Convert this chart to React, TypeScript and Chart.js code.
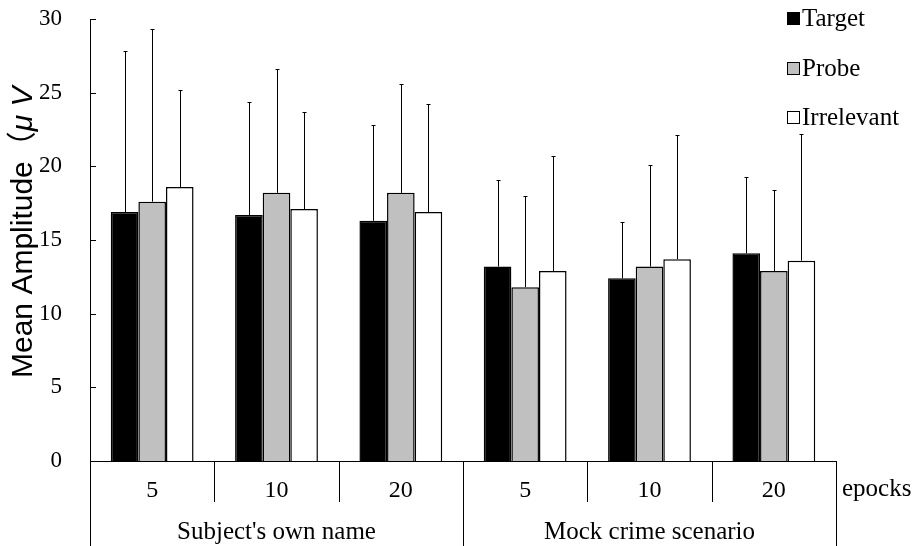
import React, { useEffect, useRef } from "react";
import { Chart, registerables } from "chart.js";

Chart.register(...registerables);

const categories = ["5", "10", "20", "5", "10", "20"];
const groupLabels = ["Subject's own name", "Mock crime scenario"];
const groupSizes = [3, 3];
const axisUnitLabel = "epocks";
const yTitleMain = "Mean Amplitude";
const yTitleParen = "（";
const yTitleUnit = "μ V";

const seriesNames = ["Target", "Probe", "Irrelevant"];
const targetMeans = [16.9, 16.7, 16.3, 13.2, 12.4, 14.1];
const probeMeans = [17.6, 18.2, 18.2, 11.8, 13.2, 12.9];
const irrelevantMeans = [18.6, 17.1, 16.9, 12.9, 13.7, 13.6];
const targetSD = [10.9, 7.7, 6.5, 5.9, 3.8, 5.2];
const probeSD = [11.7, 8.4, 7.4, 6.2, 6.9, 5.5];
const irrelevantSD = [6.6, 6.6, 7.3, 7.8, 8.4, 8.6];
const seriesColors = ["#000000", "#c0c0c0", "#ffffff"];

const yMin = 0;
const yMax = 30;
const yStep = 5;

const SERIF = "'Liberation Serif', 'Times New Roman', serif";
const SANS = "'Liberation Sans', Arial, sans-serif";
const CJK = "'Noto Sans CJK JP', 'Noto Sans CJK SC', sans-serif";

const errorBarPlugin = {
  id: "errorBars",
  afterDatasetsDraw(chart: any) {
    const ctx = chart.ctx;
    const y = chart.scales.y;
    const sds = [targetSD, probeSD, irrelevantSD];
    ctx.save();
    ctx.strokeStyle = "#000";
    ctx.lineWidth = 1;
    chart.data.datasets.forEach((ds: any, i: number) => {
      const meta = chart.getDatasetMeta(i);
      meta.data.forEach((bar: any, j: number) => {
        const v = ds.data[j];
        const top = y.getPixelForValue(v + sds[i][j]);
        const x = Math.round(bar.x) + 0.5;
        ctx.beginPath();
        ctx.moveTo(x, bar.y);
        ctx.lineTo(x, Math.round(top));
        ctx.moveTo(x - 2, Math.round(top) + 0.5);
        ctx.lineTo(x + 2, Math.round(top) + 0.5);
        ctx.stroke();
      });
    });
    ctx.restore();
  },
};

const decorPlugin = {
  id: "decor",
  afterDraw(chart: any) {
    const ctx = chart.ctx;
    const x = chart.scales.x;
    const y = chart.scales.y;
    const area = chart.chartArea;
    const H = chart.height;
    ctx.save();

    // y ticks inside
    ctx.strokeStyle = "#000";
    ctx.lineWidth = 1;
    y.ticks.forEach((t: any) => {
      const py = Math.round(y.getPixelForValue(t.value)) + 0.5;
      ctx.beginPath();
      ctx.moveTo(area.left, py);
      ctx.lineTo(area.left + 6, py);
      ctx.stroke();
    });

    // hierarchical x axis
    const n = categories.length;
    const cw = (area.right - area.left) / n;
    const groupEdges: number[] = [0];
    let acc = 0;
    groupSizes.forEach((s) => {
      acc += s;
      groupEdges.push(acc);
    });
    for (let i = 0; i <= n; i++) {
      const px = Math.round(x.getPixelForValue(i) - cw / 2) + 0.5;
      const isGroupEdge = groupEdges.includes(i);
      ctx.beginPath();
      ctx.moveTo(px, area.bottom);
      ctx.lineTo(px, isGroupEdge ? H : area.bottom + 41);
      ctx.stroke();
    }
    ctx.fillStyle = "#000";
    ctx.textAlign = "center";
    ctx.textBaseline = "alphabetic";
    ctx.font = `24px ${SERIF}`;
    categories.forEach((c, i) => {
      ctx.fillText(c, x.getPixelForValue(i), area.bottom + 36);
    });
    ctx.font = `25px ${SERIF}`;
    groupLabels.forEach((g, gi) => {
      const a = x.getPixelForValue(groupEdges[gi]) - cw / 2;
      const b = x.getPixelForValue(groupEdges[gi + 1]) - cw / 2;
      ctx.fillText(g, (a + b) / 2, area.bottom + 78);
    });
    ctx.textAlign = "left";
    ctx.fillText(axisUnitLabel, area.right + 6, area.bottom + 35);

    // legend
    ctx.font = `25px ${SERIF}`;
    seriesNames.forEach((name, i) => {
      const baseY = 26 + i * 49.5;
      ctx.fillStyle = seriesColors[i];
      ctx.fillRect(787, Math.round(baseY) - 14, 13, 13);
      ctx.strokeStyle = "#000";
      ctx.lineWidth = 1;
      ctx.strokeRect(787.5, Math.round(baseY) - 13.5, 12, 12);
      ctx.fillStyle = "#000";
      ctx.fillText(name, 802, baseY);
    });

    // y title
    ctx.translate(32, 378);
    ctx.rotate(-Math.PI / 2);
    ctx.textAlign = "left";
    ctx.font = `30px ${SANS}`;
    ctx.fillText(yTitleMain, 0, 0);
    let off = ctx.measureText(yTitleMain).width;
    ctx.font = `30px ${CJK}`;
    ctx.fillText(yTitleParen, off, 0);
    off += ctx.measureText(yTitleParen).width;
    ctx.font = `italic 30px ${SANS}`;
    ctx.fillText(yTitleUnit, off, 0);
    ctx.restore();
  },
};

export default function App() {
  const ref = useRef<HTMLCanvasElement | null>(null);
  useEffect(() => {
    if (!ref.current) return;
    const chart = new Chart(ref.current, {
      type: "bar",
      data: {
        labels: categories,
        datasets: [
          { label: seriesNames[0], data: targetMeans, backgroundColor: seriesColors[0], borderColor: "#000", borderWidth: 1.5 },
          { label: seriesNames[1], data: probeMeans, backgroundColor: seriesColors[1], borderColor: "#000", borderWidth: 1.5 },
          { label: seriesNames[2], data: irrelevantMeans, backgroundColor: seriesColors[2], borderColor: "#000", borderWidth: 1.5 },
        ],
      },
      options: {
        responsive: false,
        animation: false,
        devicePixelRatio: 1,
        layout: { padding: { left: 0, right: 84, top: 19, bottom: 0 } },
        datasets: { bar: { barPercentage: 1, categoryPercentage: 0.666 } },
        plugins: { legend: { display: false }, tooltip: { enabled: false } },
        scales: {
          x: {
            grid: { display: false },
            border: { display: true, color: "#000", width: 1 },
            ticks: { display: false },
            afterFit: (s: any) => { s.height = 85; s.paddingLeft = 0; s.paddingRight = 0; },
          },
          y: {
            min: yMin,
            max: yMax,
            grid: { display: false, drawTicks: false },
            border: { display: true, color: "#000", width: 1 },
            ticks: {
              stepSize: yStep,
              padding: 28,
              color: "#000",
              font: { family: SERIF, size: 23 },
            },
            afterFit: (s: any) => { s.width = 90; s.paddingTop = 0; s.paddingBottom = 0; },
          },
        },
      },
      plugins: [errorBarPlugin, decorPlugin],
    } as any);
    return () => chart.destroy();
  }, []);
  return (
    <div style={{ position: "fixed", left: 0, top: 0, width: 920, height: 546, background: "#fff" }}>
      <canvas ref={ref} width={920} height={546} style={{ width: 920, height: 546, display: "block" }} />
    </div>
  );
}
